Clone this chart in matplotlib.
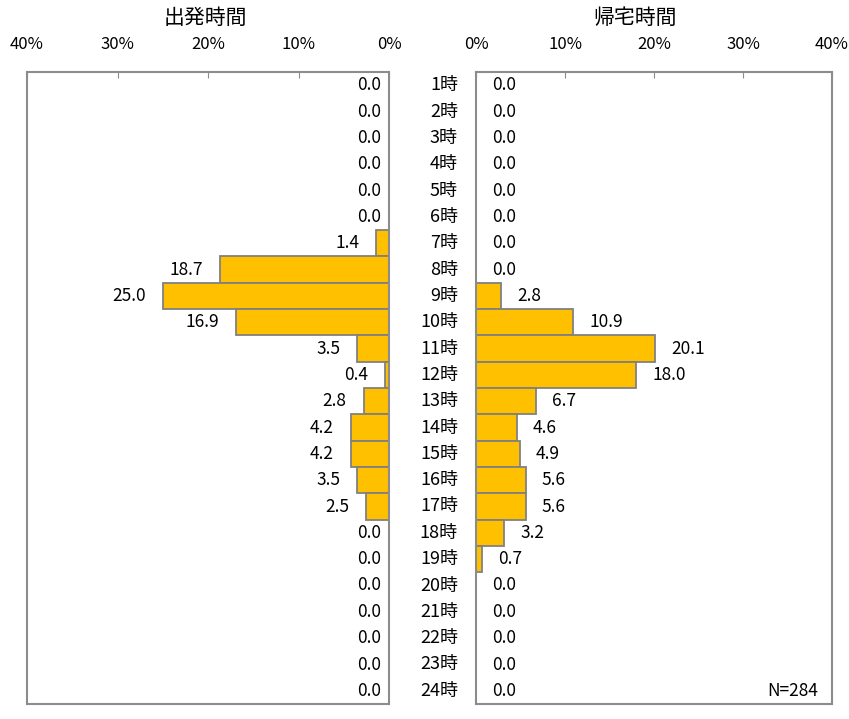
import matplotlib
matplotlib.use("Agg")
from matplotlib import pyplot as plt
from matplotlib import transforms

plt.rcParams['font.family'] = ['Noto Sans CJK JP', 'DejaVu Sans']

# 出発時間 / 帰宅時間 (%)
jikan = [str(h) + "時" for h in range(1, 25)]
shuppatsu = [0.0, 0.0, 0.0, 0.0, 0.0, 0.0, 1.4, 18.7, 25.0, 16.9, 3.5, 0.4,
             2.8, 4.2, 4.2, 3.5, 2.5, 0.0, 0.0, 0.0, 0.0, 0.0, 0.0, 0.0]
kitaku = [0.0, 0.0, 0.0, 0.0, 0.0, 0.0, 0.0, 0.0, 2.8, 10.9, 20.1, 18.0,
          6.7, 4.6, 4.9, 5.6, 5.6, 3.2, 0.7, 0.0, 0.0, 0.0, 0.0, 0.0]
ticks = [0, 10, 20, 30, 40]
tick_labels = ["0%", "10%", "20%", "30%", "40%"]
n_text = "N=284"

W, H = 849, 719
fig = plt.figure(figsize=(W / 100, H / 100), dpi=100)

def px(x0, y0, x1, y1):
    return [x0 / W, 1 - y1 / H, (x1 - x0) / W, (y1 - y0) / H]

ax_l = fig.add_axes(px(27, 72, 389, 704))
ax_r = fig.add_axes(px(476, 72, 832, 704))

kiiro = "#FFC000"
hai = "#8c8c8c"
y = list(range(len(jikan)))

for ax, vals in [(ax_l, shuppatsu), (ax_r, kitaku)]:
    ax.barh(y, vals, height=1.0, color=kiiro, edgecolor="#808080", linewidth=1.3)
    ax.set_xlim(0, 40)
    ax.set_ylim(len(jikan) - 0.5, -0.5)
    ax.set_yticks([])
    ax.set_xticks(ticks)
    ax.set_xticklabels(tick_labels, fontsize=12)
    ax.tick_params(axis='x', top=True, bottom=False, labeltop=True, labelbottom=False,
                   direction='in', length=4, color=hai, pad=14)
    for s in ax.spines.values():
        s.set_color(hai)
        s.set_linewidth(1.5)

ax_l.invert_xaxis()

# 値ラベル
for i, v in enumerate(shuppatsu):
    off = -8 if v == 0 else -17
    tr = transforms.offset_copy(ax_l.transData, fig=fig, x=off, y=0, units='dots')
    ax_l.text(v, i, "%.1f" % v, transform=tr, ha='right', va='center', fontsize=12.5)
for i, v in enumerate(kitaku):
    tr = transforms.offset_copy(ax_r.transData, fig=fig, x=16, y=0, units='dots')
    ax_r.text(v, i, "%.1f" % v, transform=tr, ha='left', va='center', fontsize=12.5)

# 時間ラベル（中央）
for i, lab in enumerate(jikan):
    tr = transforms.blended_transform_factory(fig.transFigure, ax_l.transData)
    ax_l.text(458 / W, i, lab, transform=tr, ha='right', va='center', fontsize=13,
              clip_on=False)

fig.text(205 / W, 1 - 18 / H, "出発時間", ha='center', va='center', fontsize=15)
fig.text(635 / W, 1 - 18 / H, "帰宅時間", ha='center', va='center', fontsize=15)

ax_r.text(818 / W, 23, n_text, transform=transforms.blended_transform_factory(fig.transFigure, ax_r.transData),
          ha='right', va='center', fontsize=12.5)

fig.savefig("out.png", dpi=100)
